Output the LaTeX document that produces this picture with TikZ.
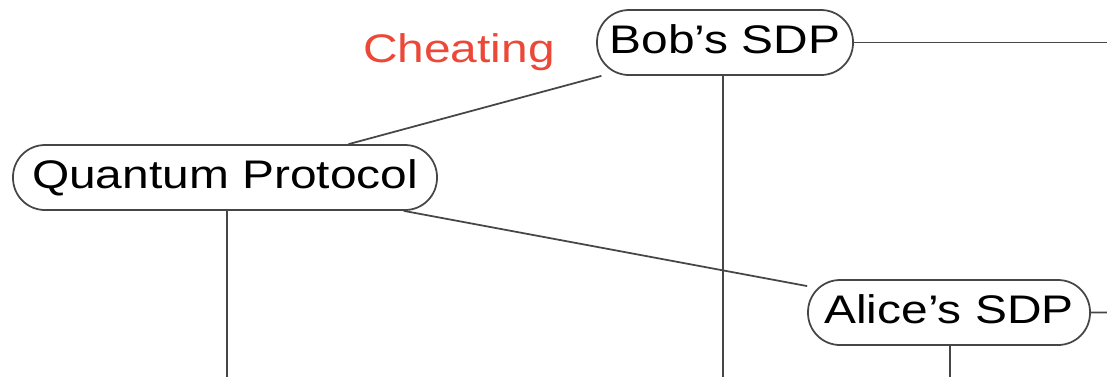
\documentclass[tikz,border=0pt]{standalone}
\usepackage{fontspec}
\setmainfont{Liberation Sans}[FakeStretch=1.2]
\usetikzlibrary{positioning}
\definecolor{cheatred}{RGB}{236,72,56}
\definecolor{edgegray}{RGB}{70,70,70}

\begin{document}
\begin{tikzpicture}[font=\fontsize{22.7}{27}\selectfont,
	sdp/.style={draw=edgegray, line width=1pt, fill=white,
		rounded corners=0.64cm, minimum height=1.3cm,
		text height=0.72cm, text depth=0.28cm, inner xsep=0pt},
	link/.style={draw=edgegray, line width=1pt}]
	\useasboundingbox (0,0) rectangle (22.14,-7.52);
	\clip (0,0) rectangle (22.14,-7.52);

	\node[sdp, minimum width=5.12cm] 
		  (Bob) at (14.5,-0.85) {Bob’s SDP};
	\node[sdp, minimum width=8.48cm] 
		  (QP) at (4.5,-3.55) {Quantum Protocol};
	\node[sdp, minimum width=5.64cm] 
		  (Alice) at (18.98,-6.25) {Alice’s SDP};
	\node[text=cheatred, anchor=base] (cheat) at (9.18,-1.24) {Cheating};

	% branches running on past the edge
	\coordinate (BobR) at (23,-0.85);
	\coordinate (BobD) at (14.46,-8);
	\coordinate (QPD) at (4.54,-8);
	\coordinate (AliceR) at (23,-6.24);
	\coordinate (AliceD) at (19,-8);

	\path[link] (QP) -- (Bob);
	\path[link] (QP) -- (Alice);
	\path[link] (Bob.east) -- (BobR);
	\path[link] (Bob.south -| BobD) -- (BobD);
	\path[link] (QP.south -| QPD) -- (QPD);
	\path[link] (Alice.east) -- (AliceR);
	\path[link] (Alice.south -| AliceD) -- (AliceD);
\end{tikzpicture}
\end{document}
